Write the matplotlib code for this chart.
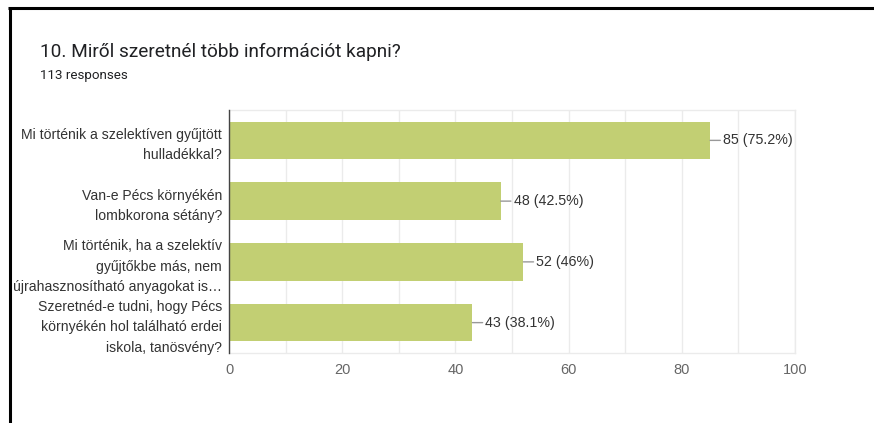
import matplotlib
matplotlib.use("Agg")
import matplotlib.pyplot as plt
from matplotlib.lines import Line2D

categories = [
    "Mi történik a szelektíven gyűjtött\nhulladékkal?",
    "Van-e Pécs környékén\nlombkorona sétány?",
    "Mi történik, ha a szelektív\ngyűjtőkbe más, nem\nújrahasznosítható anyagokat is…",
    "Szeretnéd-e tudni, hogy Pécs\nkörnyékén hol található erdei\niskola, tanösvény?",
]
counts = [85, 48, 52, 43]
percents = ["75.2%", "42.5%", "46%", "38.1%"]
xticks = [0, 20, 40, 60, 80, 100]
title = "10. Miről szeretnél több információt kapni?"
subtitle = "113 responses"

W, H = 874, 423
fig = plt.figure(figsize=(W / 100, H / 100), dpi=100)
fig.patch.set_facecolor("white")

ax = fig.add_axes([229 / W, 1 - 353 / H, (795 - 229) / W, (353 - 110) / H])

ypos = list(range(len(categories)))
ax.barh(ypos, counts, height=0.62, color="#c2cf73", zorder=3)
ax.set_ylim(len(categories) - 0.5, -0.5)
ax.set_xlim(0, 100)

ax.set_xticks(xticks)
ax.set_xticks(range(0, 101, 10), minor=True)
ax.grid(True, axis="x", which="both", color="#ebebeb", linewidth=1, zorder=0)
ax.tick_params(axis="x", which="both", length=0, pad=7, labelsize=10.5, labelcolor="#666666")
ax.tick_params(axis="y", length=0, pad=5, labelsize=10.05, labelcolor="#333333")
ax.set_yticks(ypos)
ax.set_yticklabels(categories, linespacing=1.6, fontfamily="Liberation Sans")
for lbl in ax.get_xticklabels():
    lbl.set_fontfamily("Liberation Sans")

for s in ["top", "right", "bottom"]:
    ax.spines[s].set_color("#ebebeb")
    ax.spines[s].set_linewidth(1)
ax.spines["left"].set_color("#444444")
ax.spines["left"].set_linewidth(1)
ax.spines["left"].set_zorder(4)

for y, c, p in zip(ypos, counts, percents):
    ax.annotate(f"{c} ({p})", xy=(c, y), xytext=(13, 0), textcoords="offset pixels",
                ha="left", va="center", fontsize=10.3, color="#333333",
                fontfamily="Liberation Sans",
                arrowprops=dict(arrowstyle="-", color="#999999", lw=1,
                                shrinkA=0, shrinkB=0))

fig.text(40 / W, 1 - 52 / H, title, fontsize=13.7, fontfamily="Roboto",
         color="#202124", ha="left", va="center")
fig.text(40 / W, 1 - 76 / H, subtitle, fontsize=9.6, fontfamily="Roboto",
         color="#202124", ha="left", va="center")

# black frame lines (screenshot border)
fig.add_artist(Line2D([8 / W, 1], [1 - 8.5 / H, 1 - 8.5 / H], color="black",
                      linewidth=2.2, transform=fig.transFigure, solid_capstyle="butt"))
fig.add_artist(Line2D([9.5 / W, 9.5 / W], [0, 1 - 7 / H], color="black",
                      linewidth=2.2, transform=fig.transFigure, solid_capstyle="butt"))

fig.savefig("out.png", dpi=100)
